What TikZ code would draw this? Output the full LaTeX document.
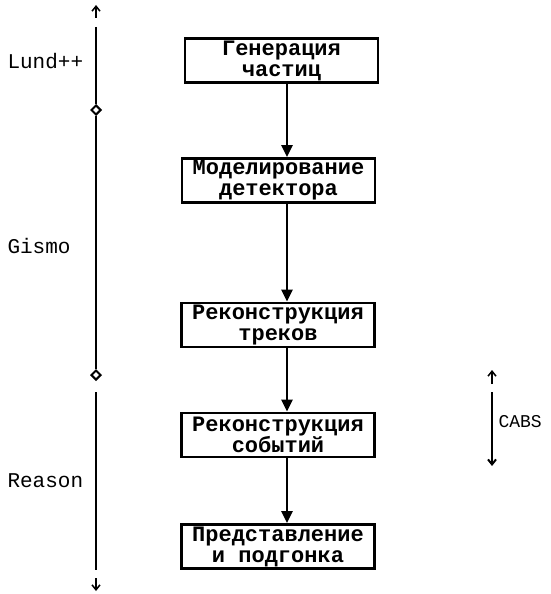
\documentclass[tikz,border=0pt]{standalone}
\usepackage{fontspec}
\setmonofont{Liberation Mono}
\usetikzlibrary{arrows.meta,shapes.geometric}
\begin{document}
\begin{tikzpicture}[x=1pt,y=-1pt,
  stage/.style={draw,line width=2.8pt,minimum width=193pt,minimum height=44pt,inner sep=0pt,
    font=\ttfamily\bfseries\fontsize{22}{21}\selectfont,align=center},
  flow/.style={line width=2.6pt,-{Triangle[length=12pt,width=11pt]}},
  axis/.style={line width=2pt},
  tiparrow/.style={line width=1.5pt,-{Straight Barb[length=5pt,width=8pt]}},
  marker/.style={diamond,draw,line width=2pt,fill=white,minimum size=10pt,inner sep=0pt},
  lbl/.style={font=\ttfamily\fontsize{21}{21}\selectfont,anchor=west}]
\useasboundingbox (0,0) rectangle (551,594);
\coordinate (mx) at (287,0);
\node[stage] (gen) at (281.5,60.5) {Генерация\\частиц};
\node[stage] (mod) at (278.5,180.5) {Моделирование\\детектора};
\node[stage] (trk) at (278,325) {Реконструкция\\треков};
\node[stage] (evt) at (278,435) {Реконструкция\\событий};
\node[stage] (fit) at (278,546.5) {Представление\\и подгонка};
\draw[flow] (gen.south -| mx) -- (mod.north -| mx);
\draw[flow] (mod.south -| mx) -- (trk.north -| mx);
\draw[flow] (trk.south -| mx) -- (evt.north -| mx);
\draw[flow] (evt.south -| mx) -- (fit.north -| mx);
% left axis
\coordinate (ttop) at (96,27);
\node[marker] (d1) at (96,110) {};
\node[marker] (d2) at (96,375) {};
\coordinate (rtop) at (96,392);
\coordinate (rbot) at (96,570);
\draw[axis] (ttop) -- (d1) -- (d2);
\draw[axis] (rtop) -- (rbot);
\coordinate (ua) at (96,18);
\coordinate (ub) at (96,5);
\draw[tiparrow] (ua) -- (ub);
\coordinate (da) at (96,578);
\coordinate (db) at (96,591);
\draw[tiparrow] (da) -- (db);
\node[lbl] (lund) at (4,61) {Lund++};
\node[lbl] (gismo) at (4,246) {Gismo};
\node[lbl] (reason) at (4,481) {Reason};
% CABS
\coordinate (ca) at (492,384);
\coordinate (cb) at (492,370);
\draw[tiparrow] (ca) -- (cb);
\coordinate (cc) at (492,392);
\coordinate (cd) at (492,466);
\draw[axis,-{Straight Barb[length=5pt,width=8pt]}] (cc) -- (cd);
\node[lbl,font=\ttfamily\fontsize{18}{18}\selectfont] (cabs) at (495,422) {CABS};
\end{tikzpicture}
\end{document}
